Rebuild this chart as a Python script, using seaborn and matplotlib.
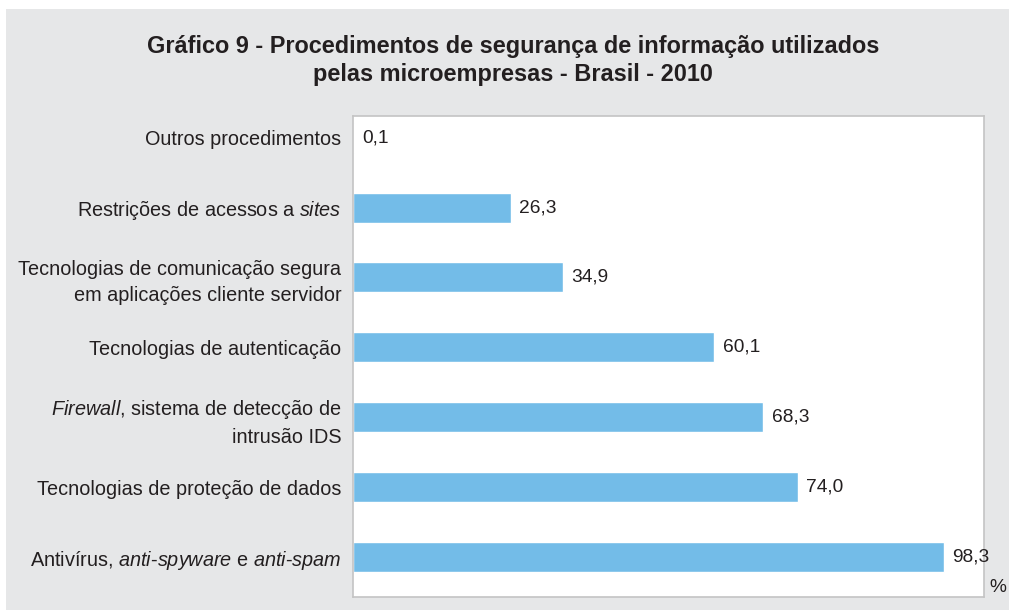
import matplotlib
matplotlib.use("Agg")
import matplotlib.pyplot as plt
from matplotlib.patches import Rectangle
import seaborn as sns
import pandas as pd

categories = [
    "Outros procedimentos",
    r"Restrições de acessos a $\mathit{sites}$",
    "Tecnologias de comunicação segura\nem aplicações cliente servidor",
    "Tecnologias de autenticação",
    r"$\mathit{Firewall}$, sistema de detecção de" + "\nintrusão IDS",
    "Tecnologias de proteção de dados",
    r"Antivírus, $\mathit{anti}$-$\mathit{spyware}$ e $\mathit{anti}$-$\mathit{spam}$",
]
values = [0.1, 26.3, 34.9, 60.1, 68.3, 74.0, 98.3]
title_lines = [
    "Gráfico 9 - Procedimentos de segurança de informação utilizados",
    "pelas microempresas - Brasil - 2010",
]
unit_label = "%"

sns.set_theme(style="white")
plt.rcParams["font.family"] = ["Liberation Sans", "DejaVu Sans"]
plt.rcParams["mathtext.fontset"] = "custom"
plt.rcParams["mathtext.rm"] = "Liberation Sans"
plt.rcParams["mathtext.it"] = "Liberation Sans:italic"

W, H = 1009, 616
fig = plt.figure(figsize=(W / 100, H / 100), dpi=100, facecolor="white")
bg = Rectangle((6 / W, 6 / H), (W - 6) / W, 601 / H,
               transform=fig.transFigure, facecolor="#e6e7e8",
               edgecolor="none", zorder=-10)
fig.add_artist(bg)

ax = fig.add_axes([353 / W, (H - 597) / H, 631 / W, 481 / H])
ax.set_zorder(1)
ax.set_facecolor("white")

df = pd.DataFrame({"cat": categories, "val": values})
sns.barplot(data=df, y="cat", x="val", order=categories, color="#73bce8",
            saturation=1, width=0.43, ax=ax)

ax.set_xlim(0, 105)
ax.set_ylim(6.572, -0.31)
ax.set_xlabel("")
ax.set_ylabel("")
ax.set_xticks([])
ax.tick_params(axis="y", length=0, pad=8.5, labelsize=14.3, labelcolor="#231f20")
for lab in ax.get_yticklabels():
    lab.set_linespacing(1.45)

for i, v in enumerate(values):
    ax.annotate(f"{v:.1f}".replace(".", ","), xy=(v, i), xytext=(6, 0),
                textcoords="offset points", ha="left", va="center",
                fontsize=13.8, color="#231f20")

for s in ax.spines.values():
    s.set_visible(True)
    s.set_color("#c4c4c4")
    s.set_linewidth(1.2)

ax.annotate(unit_label, xy=(1, 0), xycoords="axes fraction", xytext=(4, 7),
            textcoords="offset points", ha="left", va="center",
            fontsize=13.8, color="#231f20", annotation_clip=False)

fig.text(513 / W, 1 - 47 / H, title_lines[0], ha="center", va="center",
         fontsize=16.9, fontweight="bold", color="#231f20")
fig.text(513 / W, 1 - 75 / H, title_lines[1], ha="center", va="center",
         fontsize=16.9, fontweight="bold", color="#231f20")

fig.savefig("out.png", dpi=100, facecolor="white")
